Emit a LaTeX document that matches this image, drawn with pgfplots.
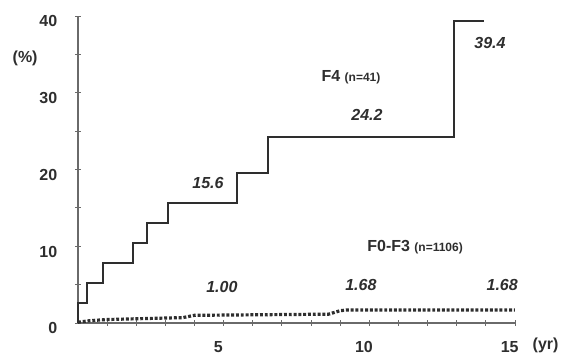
\documentclass[border=0pt]{standalone}
\usepackage{pgfplots}
\pgfplotsset{compat=1.18}
\usepackage{fontspec}
\setmainfont{Liberation Sans}
\definecolor{ink}{HTML}{2E2E2E}
\definecolor{axisgray}{HTML}{6A6A6A}
\begin{document}
\begin{tikzpicture}
\begin{axis}[
  scale only axis,
  width=327.75pt, height=230.25pt,
  xmin=0, xmax=15, ymin=0, ymax=40,
  axis lines=left,
  axis line style={draw=axisgray, line width=0.9pt, -},
  xtick={5,10,15},
  ytick={0,10,20,30,40},
  minor xtick={1,2,3,4,6,7,8,9,11,12,13,14},
  minor ytick={5,15,25,35},
  tick align=center,
  major tick length=4pt,
  minor tick length=4pt,
  every tick/.style={draw=axisgray, line width=0.7pt},
  tick label style={font=\bfseries\fontsize{12}{14}\selectfont, text=ink},
  /pgf/number format/assume math mode=true,
  xticklabel style={yshift=-8pt, xshift=-4pt},
  yticklabel style={xshift=-10pt, yshift=-4pt},
  xlabel={(yr)},
  xlabel style={at={(rel axis cs:1.07,-0.072)}, anchor=center, font=\bfseries\fontsize{12}{14}\selectfont, text=ink},
  ylabel={(\%)},
  ylabel style={at={(rel axis cs:-0.121,0.863)}, anchor=center, rotate=-90, font=\bfseries\fontsize{12}{14}\selectfont, text=ink},
  clip=false,
]
% F4 (n=41)
\addplot[const plot, draw=ink, line width=1.5pt] coordinates {
  (0,0) (0,2.6) (0.31,5.2) (0.86,7.8) (1.89,10.4) (2.37,13.0) (3.09,15.6)
  (5.46,19.5) (6.53,24.2) (12.92,39.4) (13.92,39.4)
};
% F0-F3 (n=1106)
\addplot[draw=ink, line width=2.4pt, dash pattern=on 2.2pt off 1.4pt] coordinates {
  (0,0.1) (0.4,0.3) (1.0,0.45) (2.0,0.55) (3.6,0.7) (4.0,1.0)
  (8.6,1.15) (9.0,1.6) (9.2,1.68) (15,1.68)
};
\node[font=\bfseries\itshape\fontsize{12}{14}\selectfont, text=ink] at (axis cs:14.14,36.5) {39.4};
\node[font=\bfseries\itshape\fontsize{12}{14}\selectfont, text=ink] at (axis cs:9.92,27.1) {24.2};
\node[font=\bfseries\itshape\fontsize{12}{14}\selectfont, text=ink] at (axis cs:4.46,18.2) {15.6};
\node[font=\bfseries\itshape\fontsize{12}{14}\selectfont, text=ink] at (axis cs:4.94,4.7) {1.00};
\node[font=\bfseries\itshape\fontsize{12}{14}\selectfont, text=ink] at (axis cs:9.71,4.9) {1.68};
\node[font=\bfseries\itshape\fontsize{12}{14}\selectfont, text=ink] at (axis cs:14.56,4.9) {1.68};
\node[text=ink] at (axis cs:9.37,32.0) {\bfseries\fontsize{12}{14}\selectfont F4 \fontsize{9}{11}\selectfont(n=41)};
\node[text=ink] at (axis cs:11.57,9.9) {\bfseries\fontsize{12}{14}\selectfont F0-F3 \fontsize{9}{11}\selectfont(n=1106)};
\end{axis}
\path[use as bounding box] (-58.5pt,-23.25pt) rectangle (368.25pt,242.25pt);
\end{tikzpicture}
\end{document}
